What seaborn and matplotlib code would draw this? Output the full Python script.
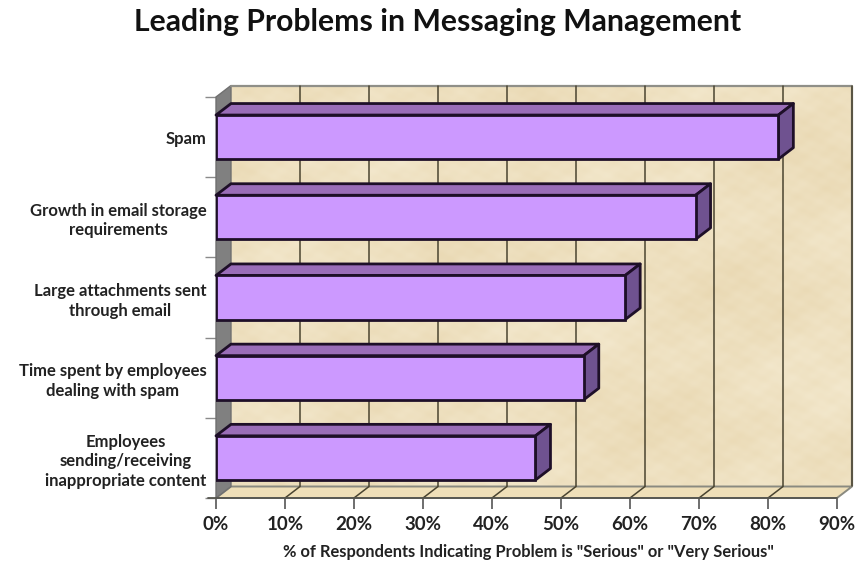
import numpy as np
import matplotlib
matplotlib.use("Agg")
import matplotlib.pyplot as plt
from matplotlib.patches import Polygon
from matplotlib.ticker import FixedLocator
import seaborn as sns

problems = ["Spam", "Growth in email storage\nrequirements", "Large attachments sent\nthrough email",
            "Time spent by employees\ndealing with spam",
            "Employees\nsending/receiving\ninappropriate content"]
percent = [81.5, 69.5, 59.3, 53.3, 46.3]
x_ticks = [0, 10, 20, 30, 40, 50, 60, 70, 80, 90]
title = "Leading Problems in Messaging Management"
x_label = '% of Respondents Indicating Problem is "Serious" or "Very Serious"'

sns.set_style("white")
plt.rcParams['font.family'] = ['Lato', 'DejaVu Sans']
W, H = 859, 562
fig = plt.figure(figsize=(W / 100, H / 100), dpi=100)
ax = fig.add_axes([216 / W, (H - 498) / H, 621 / W, 401 / H])

FACE, TOP, SIDE, INK = "#CC99FF", "#9A6DB8", "#6F5290", "#1E0F28"
sns.barplot(x=percent, y=problems, orient="h", color=FACE, saturation=1, width=0.55,
            edgecolor=INK, linewidth=2, ax=ax, zorder=5)
ax.set_xlim(0, 90)
ax.set_ylim(4.5, -0.5)
ax.set_autoscale_on(False)

DX = 15 / 621 * 90
DY = 11.5 / 80.2
y0, y1 = 4.5, -0.5
wall_top = y1 - DY
wall_bot = y0 - DY

# parchment backdrop (decorative only)
yy, xx = np.mgrid[0:1:300j, 0:1:480j]
tex = (np.sin(xx * 13 + yy * 5 + 1) + np.sin(xx * 5 - yy * 17) + 0.6 * np.sin(xx * 37 + yy * 29 + 2)
       + 0.5 * np.sin(xx * 83 - yy * 61) + 0.4 * np.sin(xx * 47 + yy * 131 + 4)
       + 0.3 * np.sin(xx * 211 + yy * 149) + 0.3 * np.sin(xx * 173 - yy * 227 + 1))
tex = (tex - tex.min()) / (tex.max() - tex.min())
light, dark = np.array([243, 232, 205]) / 255, np.array([233, 216, 178]) / 255
rgb = light + (dark - light) * tex[..., None]
ax.imshow(rgb, extent=(DX, 90 + DX, wall_bot, wall_top), aspect="auto", zorder=0, clip_on=False,
          interpolation="bilinear")
ax.set_xlim(0, 90)
ax.set_ylim(4.5, -0.5)

# floor and side wall
ax.add_patch(Polygon([(0, y0), (DX, wall_bot), (90 + DX, wall_bot), (90, y0)], closed=True,
                     fc="#EFDFB8", ec="#8A8A80", lw=1.4, zorder=1, clip_on=False))
ax.add_patch(Polygon([(0, y0), (DX, wall_bot), (DX, wall_top), (0, y1)], closed=True,
                     fc="#808080", ec="#707070", lw=1, zorder=1, clip_on=False))
ax.plot([DX, 90 + DX, 90 + DX], [wall_top, wall_top, wall_bot], color="#8F8F88", lw=1.6,
        zorder=1, clip_on=False)

# gridlines
for t in x_ticks[1:]:
    ax.plot([t + DX, t + DX], [wall_top, wall_bot], color="#4A4430", lw=1.1, zorder=2, clip_on=False)
    if t < 90:
        ax.plot([t + DX, t], [wall_bot, y0], color="#4A4430", lw=1.1, zorder=2, clip_on=False)

# 3-D bar faces derived from the same values
for i, v in enumerate(percent):
    top, bot = i - 0.275, i + 0.275
    ax.add_patch(Polygon([(0, top), (DX, top - DY), (v + DX, top - DY), (v, top)], closed=True,
                         fc=TOP, ec=INK, lw=2, zorder=4, clip_on=False, joinstyle="round"))
    ax.add_patch(Polygon([(v, top), (v + DX, top - DY), (v + DX, bot - DY), (v, bot)], closed=True,
                         fc=SIDE, ec=INK, lw=2, zorder=4, clip_on=False, joinstyle="round"))

sns.despine(ax=ax, top=True, right=True, left=True, bottom=True)
ax.grid(False)
ax.plot([-1.2, 90], [y0, y0], color="#55554F", lw=1.3, zorder=3, clip_on=False)

ax.set_xticks(x_ticks)
ax.set_xticklabels([f"{t}%" for t in x_ticks], fontsize=13.5, fontweight="bold", color="#222222")
ax.tick_params(axis="x", length=8, width=1.2, color="#555555", pad=5, bottom=True)
ax.tick_params(axis="y", which="major", length=0, pad=7, labelsize=12, labelcolor="#222222")
for lab in ax.get_yticklabels():
    lab.set_fontweight("bold")
    lab.set_ha("right")
    lab.set_multialignment("center")
    lab.set_linespacing(1.27)
ax.yaxis.set_minor_locator(FixedLocator([-0.5, 0.5, 1.5, 2.5, 3.5, 4.5]))
ax.tick_params(axis="y", which="minor", length=8, width=1, color="#8A8A8A", left=True)
ax.set_ylabel("")
ax.set_xlabel(x_label, fontsize=11.9, fontweight="bold", color="#222222")
ax.xaxis.set_label_coords(312 / 621, -54 / 401)
ax.xaxis.label.set_va("center")
fig.text(438 / W, 1 - 22 / H, title, ha="center", va="center", fontsize=21.7, fontweight="bold", color="#111111")
fig.savefig("out.png", dpi=100)
